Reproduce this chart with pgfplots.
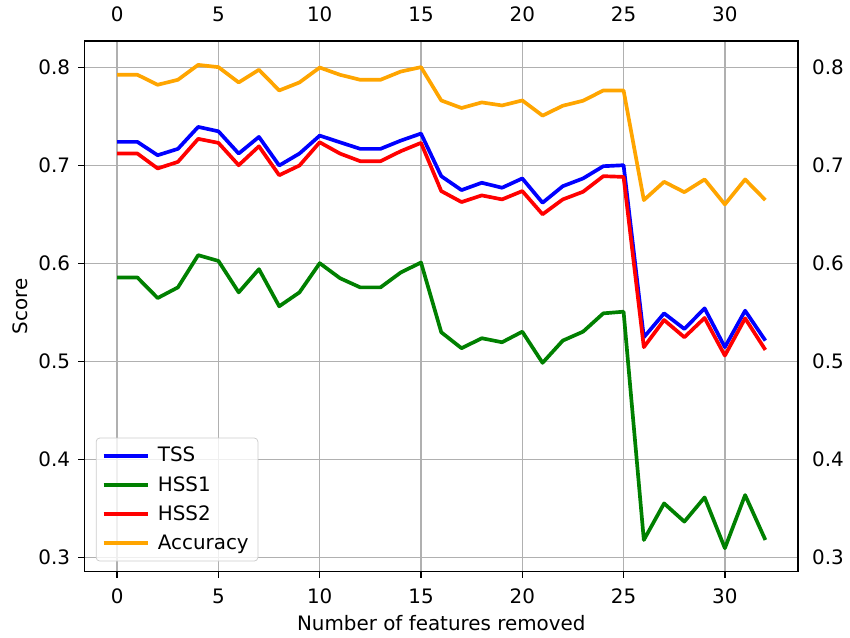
\documentclass[border=0pt]{standalone}
\usepackage{fontspec}
\setmainfont{DejaVu Sans}
\usepackage{pgfplots}
\pgfplotsset{compat=1.18}

\definecolor{tssblue}{RGB}{0,0,255}
\definecolor{hssgreen}{RGB}{0,128,0}
\definecolor{hssred}{RGB}{255,0,0}
\definecolor{accorange}{RGB}{255,165,0}
\definecolor{gridgray}{RGB}{176,176,176}

\newcommand{\chartfont}{\fontsize{10.8}{13}\selectfont}

\pgfplotsset{
  scorebox/.style={
    scale only axis,
    width=387.1pt, height=288pt,
    xmin=-1.6, xmax=33.6,
    ymin=0.2857, ymax=0.8272,
    xtick={0,5,10,15,20,25,30},
    ytick={0.3,0.4,0.5,0.6,0.7,0.8},
    yticklabel style={/pgf/number format/fixed, /pgf/number format/precision=1},
    /pgf/number format/assume math mode=true,
    tick label style={font=\chartfont},
  }
}

\begin{document}
\begin{tikzpicture}
\begin{axis}[
  scorebox,
  name=main,
  xtick pos=lower, ytick pos=left,
  tick align=outside,
  major tick length=3.5pt,
  tick style={line width=0.8pt, black},
  axis line style={line width=0.8pt},
  grid=major,
  major grid style={line width=0.8pt, gridgray},
  xticklabel style={yshift=-2.4pt},
  yticklabel style={xshift=-0.9pt},
  xlabel={Number of features removed},
  ylabel={Score},
  every axis x label/.style={at={(rel axis cs:0.5,-0.1122)}, anchor=base, font=\chartfont},
  every axis y label/.style={at={(rel axis cs:-0.0798,0.5)}, rotate=90, anchor=base, font=\chartfont},
  every axis plot/.append style={line width=2pt, line join=round},
  legend cell align=left,
  legend style={
    at={(rel axis cs:0,0)}, anchor=south west,
    xshift=6pt, yshift=5.4pt,
    draw=black!20, rounded corners=2pt, fill=white, fill opacity=0.8, text opacity=1,
    font=\chartfont,
    inner xsep=3pt, inner ysep=3pt,
    row sep=2.3pt,
    /tikz/every odd column/.append style={column sep=2.5pt},
  },
  legend image code/.code={\draw[#1, line width=2pt] (0pt,0pt) -- (24pt,0pt);},
]
\addplot[color=tssblue] coordinates {
(0,0.7241) (1,0.7241) (2,0.7105) (3,0.7170) (4,0.7394) (5,0.7349) (6,0.7122) (7,0.7292)
(8,0.7000) (9,0.7122) (10,0.7305) (11,0.7237) (12,0.7170) (13,0.7170) (14,0.7254) (15,0.7326)
(16,0.6891) (17,0.6749) (18,0.6824) (19,0.6773) (20,0.6868) (21,0.6620) (22,0.6789) (23,0.6868)
(24,0.6993) (25,0.7003) (26,0.5247) (27,0.5491) (28,0.5332) (29,0.5542) (30,0.5146) (31,0.5518) (32,0.5213)
};
\addlegendentry{TSS}
\addplot[color=hssgreen] coordinates {
(0,0.5857) (1,0.5857) (2,0.5647) (3,0.5756) (4,0.6085) (5,0.6026) (6,0.5705) (7,0.5942)
(8,0.5563) (9,0.5705) (10,0.6003) (11,0.5850) (12,0.5756) (13,0.5756) (14,0.5908) (15,0.6010)
(16,0.5298) (17,0.5135) (18,0.5237) (19,0.5196) (20,0.5304) (21,0.4986) (22,0.5213) (23,0.5304)
(24,0.5491) (25,0.5508) (26,0.3178) (27,0.3551) (28,0.3365) (29,0.3612) (30,0.3094) (31,0.3636) (32,0.3178)
};
\addlegendentry{HSS1}
\addplot[color=hssred] coordinates {
(0,0.7122) (1,0.7122) (2,0.6970) (3,0.7037) (4,0.7272) (5,0.7231) (6,0.7003) (7,0.7196)
(8,0.6901) (9,0.7000) (10,0.7237) (11,0.7122) (12,0.7044) (13,0.7044) (14,0.7146) (15,0.7231)
(16,0.6739) (17,0.6627) (18,0.6695) (19,0.6654) (20,0.6739) (21,0.6502) (22,0.6654) (23,0.6732)
(24,0.6891) (25,0.6884) (26,0.5146) (27,0.5423) (28,0.5247) (29,0.5444) (30,0.5060) (31,0.5440) (32,0.5118)
};
\addlegendentry{HSS2}
\addplot[color=accorange] coordinates {
(0,0.7926) (1,0.7926) (2,0.7824) (3,0.7875) (4,0.8027) (5,0.8004) (6,0.7848) (7,0.7977)
(8,0.7766) (9,0.7848) (10,0.8000) (11,0.7926) (12,0.7875) (13,0.7875) (14,0.7959) (15,0.8004)
(16,0.7664) (17,0.7587) (18,0.7644) (19,0.7613) (20,0.7664) (21,0.7509) (22,0.7610) (23,0.7661)
(24,0.7766) (25,0.7766) (26,0.6647) (27,0.6834) (28,0.6728) (29,0.6858) (30,0.6603) (31,0.6858) (32,0.6647)
};
\addlegendentry{Accuracy}
\end{axis}

% mirrored labels on the top and right edges, without tick marks
\begin{axis}[
  scorebox,
  axis line style={draw=none},
  major tick length=0pt,
  xticklabel pos=upper, yticklabel pos=right,
  xticklabel style={yshift=6.6pt},
  yticklabel style={xshift=4.3pt},
]
\end{axis}

\path (main.south west) ++(-46.0pt,-35.73pt) coordinate (bbsw);
\path (main.north east) ++(27.07pt,22.2pt) coordinate (bbne);
\path (bbsw) rectangle (bbne);
\end{tikzpicture}
\end{document}
